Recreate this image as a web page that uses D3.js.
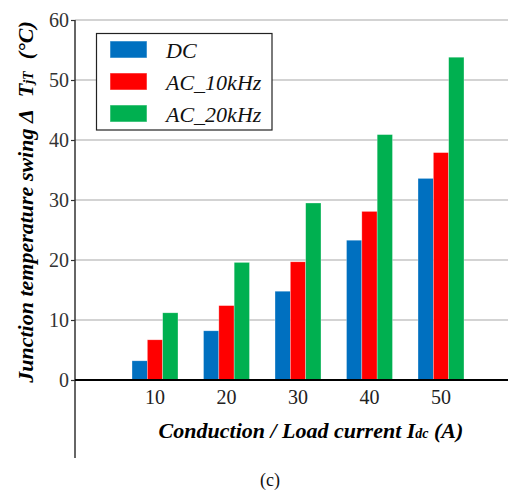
<!DOCTYPE html>
<html>
<head>
<meta charset="utf-8">
<script src="https://cdn.jsdelivr.net/npm/d3@7"></script>
</head>
<body style="margin:0;background:#fff">
<svg id="chart" width="508" height="494" style="display:block"></svg>
<script>
// Load current categories (A)
const currents = ["10", "20", "30", "40", "50"];
// Junction temperature swing (°C) per excitation
const dcValues    = [3.2, 8.2, 14.8, 23.3, 33.6];
const ac10Values  = [6.7, 12.4, 19.7, 28.1, 37.9];
const ac20Values  = [11.2, 19.6, 29.5, 40.9, 53.8];
const seriesNames = ["DC", "AC_10kHz", "AC_20kHz"];
const seriesColors = ["#0070C0", "#FF0000", "#00B050"];
const yTicks = [0, 10, 20, 30, 40, 50, 60];

const FONT = "Liberation Serif";
const series = [dcValues, ac10Values, ac20Values];
const svg = d3.select("#chart");

const axisX = 75, plotRight = 508;
const y = d3.scaleLinear().domain([0, 60]).range([380, 20]);

const x = d3.scaleBand().domain(currents)
  .range([119.25, 476.75]).paddingInner(0.357).paddingOuter(0.1785);
const xs = d3.scaleBand().domain(seriesNames).range([0, x.bandwidth()]);

// horizontal gridlines
svg.append("g").selectAll("line").data(yTicks.filter(d => d > 0)).join("line")
  .attr("x1", axisX).attr("x2", plotRight)
  .attr("y1", d => y(d)).attr("y2", d => y(d))
  .attr("stroke", "#c4c4c4").attr("stroke-width", 1.5);

// bars
const groups = svg.append("g").selectAll("g").data(currents).join("g")
  .attr("transform", d => `translate(${x(d)},0)`);
groups.selectAll("rect")
  .data((c, i) => series.map((s, k) => ({ name: seriesNames[k], value: s[i], color: seriesColors[k] })))
  .join("rect")
  .attr("x", d => xs(d.name))
  .attr("width", xs.bandwidth())
  .attr("y", d => y(d.value))
  .attr("height", d => y(0) - y(d.value))
  .attr("fill", d => d.color)
  .attr("stroke", "#ffffff").attr("stroke-opacity", 0.5).attr("stroke-width", 0.6);

// y axis
const yAxis = d3.axisLeft(y).tickValues(yTicks).tickSize(4).tickPadding(2);
const yg = svg.append("g").attr("transform", `translate(${axisX},0)`).call(yAxis)
  .attr("font-family", FONT);
yg.select(".domain").remove();
yg.selectAll(".tick line").attr("stroke", "#333").attr("stroke-width", 1.2);
yg.selectAll(".tick text").attr("font-family", FONT).attr("font-size", 20).attr("fill", "#333");
svg.append("line").attr("x1", axisX).attr("x2", axisX).attr("y1", y(60)).attr("y2", 458)
  .attr("stroke", "#333").attr("stroke-width", 1.5);

// zero baseline
svg.append("line").attr("x1", axisX).attr("x2", plotRight).attr("y1", y(0)).attr("y2", y(0))
  .attr("stroke", "#000").attr("stroke-width", 2);

// x tick labels
const xAxis = d3.axisBottom(x).tickSize(0).tickPadding(10);
const xg = svg.append("g").attr("transform", `translate(0,${y(0)})`).call(xAxis)
  .attr("font-family", FONT);
xg.select(".domain").remove();
xg.selectAll(".tick text").attr("font-family", FONT).attr("font-size", 20).attr("fill", "#222");

// x axis title
const xt = svg.append("text").attr("x", 311).attr("y", 438).attr("text-anchor", "middle")
  .attr("font-family", FONT)
  .attr("font-size", 22).attr("font-weight", "bold").attr("font-style", "italic").attr("fill", "#000");
xt.append("tspan").text("Conduction / Load current I");
xt.append("tspan").attr("font-size", 14).text("dc");
xt.append("tspan").text(" (A)");

// y axis title
const yt = svg.append("text").attr("transform", "translate(33,202) rotate(-90)").attr("text-anchor", "middle")
  .attr("font-family", FONT).style("white-space", "pre")
  .attr("font-size", 22).attr("font-weight", "bold").attr("font-style", "italic").attr("fill", "#000");
yt.append("tspan").text("Junction temperature swing \u0394");
yt.append("tspan").attr("dx", 12).text("T");
yt.append("tspan").attr("font-size", 14).text("jT");
yt.append("tspan").attr("dx", 12).text("(\u00B0C)");

// legend
const lg = svg.append("g");
lg.append("rect").attr("x", 96.5).attr("y", 33.5).attr("width", 175.5).attr("height", 96.5)
  .attr("fill", "#fff").attr("stroke", "#222").attr("stroke-width", 1.2);
seriesNames.forEach((name, k) => {
  const yy = 41 + k * 32;
  lg.append("rect").attr("x", 110).attr("y", yy).attr("width", 37).attr("height", 17)
    .attr("fill", seriesColors[k]).attr("stroke", "#ffffff").attr("stroke-opacity", 0.5);
  lg.append("text").attr("x", 166).attr("y", yy + 17).attr("font-family", FONT).attr("font-size", 22)
    .attr("font-style", "italic").attr("fill", "#111").text(name);
});

// panel label
svg.append("text").attr("x", 270).attr("y", 486).attr("text-anchor", "middle")
  .attr("font-family", FONT).attr("font-size", 18).attr("fill", "#111").text("(c)");
</script>
</body>
</html>
